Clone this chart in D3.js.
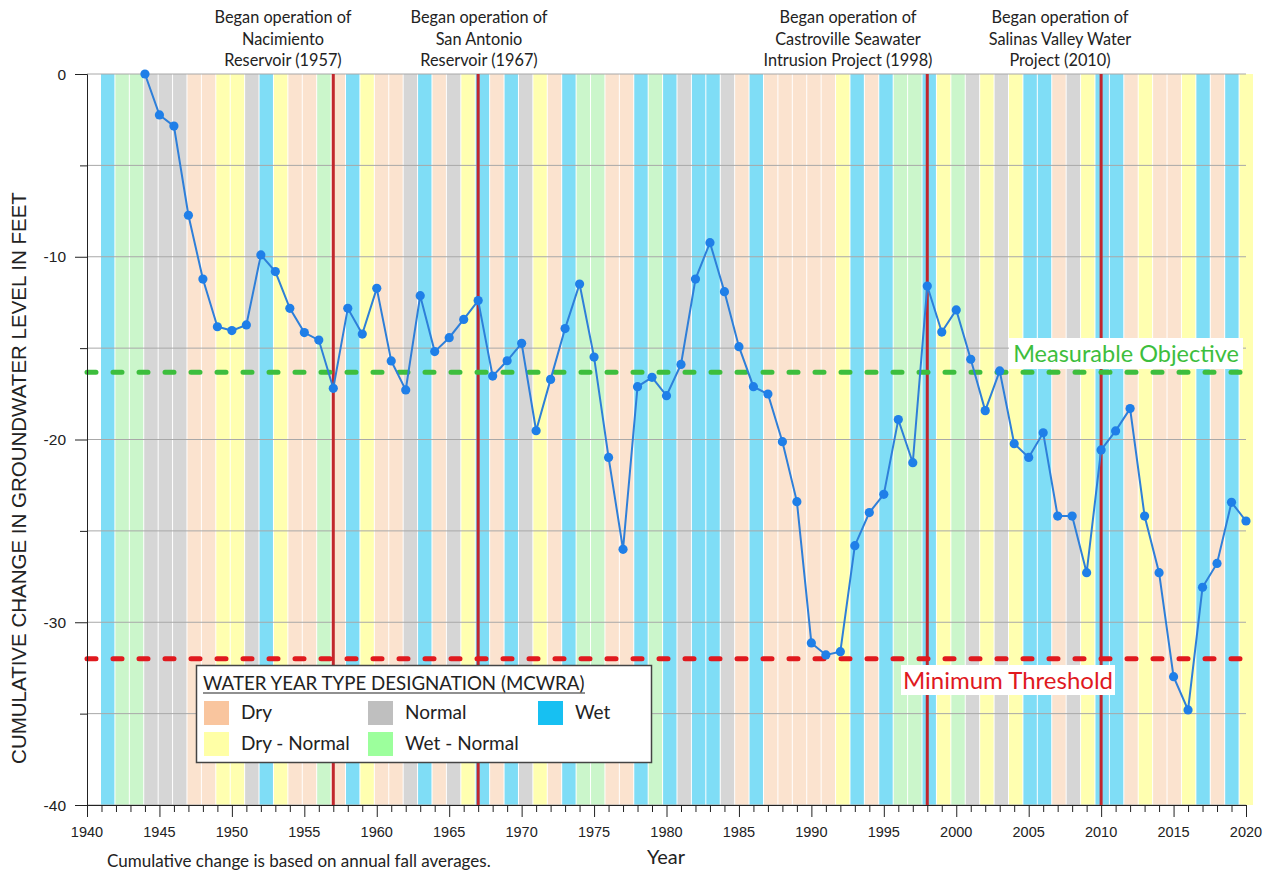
<!DOCTYPE html>
<html><head><meta charset="utf-8">
<script src="https://cdn.jsdelivr.net/npm/d3@7"></script>
<style>body{margin:0;background:#fff} svg{display:block}</style>
</head><body><svg id="c" width="1266" height="875"></svg>
<script>
// ---------- DATA ----------
const years = [1944,1945,1946,1947,1948,1949,1950,1951,1952,1953,1954,1955,1956,1957,1958,1959,
  1960,1961,1962,1963,1964,1965,1966,1967,1968,1969,1970,1971,1972,1973,1974,1975,1976,1977,1978,1979,
  1980,1981,1982,1983,1984,1985,1986,1987,1988,1989,1990,1991,1992,1993,1994,1995,1996,1997,1998,1999,
  2000,2001,2002,2003,2004,2005,2006,2007,2008,2009,2010,2011,2012,2013,2014,2015,2016,2017,2018,2019,2020];
const change = [0,-2.24,-2.85,-7.73,-11.22,-13.83,-14.04,-13.73,-9.9,-10.81,-12.82,-14.15,-14.56,-17.2,-12.82,-14.23,
  -11.73,-15.7,-17.29,-12.13,-15.19,-14.43,-13.43,-12.4,-16.53,-15.69,-14.74,-19.52,-16.71,-13.93,-11.49,-15.49,-20.98,-26.01,-17.11,-16.6,
  -17.6,-15.89,-11.22,-9.23,-11.91,-14.92,-17.11,-17.51,-20.12,-23.4,-31.13,-31.79,-31.61,-25.81,-24.0,-23.0,-18.91,-21.27,-11.6,-14.12,
  -12.91,-15.61,-18.42,-16.25,-20.23,-20.98,-19.63,-24.19,-24.19,-27.29,-20.57,-19.53,-18.31,-24.19,-27.29,-32.98,-34.8,-28.09,-26.78,-23.44,-24.46];

const bandYears = [1941,1942,1943,1944,1945,1946,1947,1948,1949,1950,1951,1952,1953,1954,1955,1956,1957,1958,1959,1960,
  1961,1962,1963,1964,1965,1966,1967,1968,1969,1970,1971,1972,1973,1974,1975,1976,1977,1978,1979,1980,
  1981,1982,1983,1984,1985,1986,1987,1988,1989,1990,1991,1992,1993,1994,1995,1996,1997,1998,1999,2000,
  2001,2002,2003,2004,2005,2006,2007,2008,2009,2010,2011,2012,2013,2014,2015,2016,2017,2018,2019,2020];
const waterYearType = [
  "W","WN","WN","N","N","N","D","D","DN","DN",
  "N","W","DN","D","D","WN","D","W","DN","D",
  "D","N","W","D","N","DN","W","D","W","N",
  "DN","D","W","WN","WN","D","D","W","WN","W",
  "N","W","W","N","D","W","D","D","D","D",
  "D","DN","W","D","W","WN","WN","W","DN","WN",
  "N","DN","N","DN","W","W","D","N","DN","W",
  "W","D","DN","D","D","DN","W","D","W","DN"];

const typeKeys = ["D","N","W","DN","WN"];
const typeLabels = ["Dry","Normal","Wet","Dry - Normal","Wet - Normal"];
const typeBandColors = ["#FBE3CF","#D6D6D6","#7FDDF6","#FFFFB0","#CBF6CB"];
const typeLegendColors = ["#F9C59E","#BFBFBF","#17C0F2","#FFFFA6","#9CFF9C"];

const milestoneYears = [1957,1967,1998,2010];
const milestoneText = [
  ["Began operation of","Nacimiento","Reservoir (1957)"],
  ["Began operation of","San Antonio","Reservoir (1967)"],
  ["Began operation of","Castroville Seawater","Intrusion Project (1998)"],
  ["Began operation of","Salinas Valley Water","Project (2010)"]];

const measurableObjective = -16.32;
const minimumThreshold = -32.0;
const xTickLabels = [1940,1945,1950,1955,1960,1965,1970,1975,1980,1985,1990,1995,2000,2005,2010,2015,2020];
const yTickLabels = [0,-10,-20,-30,-40];
const yGridValues = [0,-5,-10,-15,-20,-25,-30,-35,-40];

// ---------- SCALES ----------
const svg = d3.select("#c");
const x = d3.scaleLinear().domain([1940,2020]).range([87,1246]);
const y = d3.scaleLinear().domain([0,-40]).range([74,805]);
const xb = d3.scaleBand().domain(bandYears).range([101,1253]).paddingInner(0.07).paddingOuter(0);
const bandColor = d3.scaleOrdinal().domain(typeKeys).range(typeBandColors);
const legendColor = d3.scaleOrdinal().domain(typeKeys).range(typeLegendColors);

const calib = "Lato, 'Open Sans', sans-serif";
const arial = "'Liberation Sans', Arial, sans-serif";

// bands
svg.append("g").selectAll("rect").data(bandYears).join("rect")
  .attr("x", d => xb(d)).attr("width", xb.bandwidth())
  .attr("y", y(0)).attr("height", y(-40) - y(0))
  .attr("fill", (d,i) => bandColor(waterYearType[i]));

// grid
svg.append("g").selectAll("line").data(yGridValues).join("line")
  .attr("x1", x(1940)).attr("x2", x(2020))
  .attr("y1", d => y(d)).attr("y2", d => y(d))
  .attr("stroke", "#A8A8A8").attr("stroke-width", 1);

// milestone vertical lines
svg.append("g").selectAll("line").data(milestoneYears).join("line")
  .attr("x1", d => x(d)).attr("x2", d => x(d))
  .attr("y1", y(0)).attr("y2", y(-40))
  .attr("stroke", "#C1272D").attr("stroke-width", 3);

// objective / threshold dashed lines
const refLines = [[measurableObjective,"#3DBE3D"],[minimumThreshold,"#E0191E"]];
svg.append("g").selectAll("line").data(refLines).join("line")
  .attr("x1", x(1940)).attr("x2", 1240)
  .attr("y1", d => y(d[0])).attr("y2", d => y(d[0]))
  .attr("stroke", d => d[1]).attr("stroke-width", 5)
  .attr("stroke-dasharray", "9,17").attr("stroke-linecap", "round");

// series
const pts = years.map((yr,i) => [yr, change[i]]);
svg.append("path").datum(pts)
  .attr("fill","none").attr("stroke","#2E7FD9").attr("stroke-width",2)
  .attr("d", d3.line().x(d => x(d[0])).y(d => y(d[1])));
svg.append("g").selectAll("circle").data(pts).join("circle")
  .attr("cx", d => x(d[0])).attr("cy", d => y(d[1])).attr("r", 4.6)
  .attr("fill","#1F7FE8");

// axes
const xAxis = svg.append("g").attr("transform", `translate(0,${y(-40)})`)
  .call(d3.axisBottom(x).tickValues(d3.range(1940,2021)).tickSize(7).tickFormat(""));
xAxis.selectAll(".tick line").attr("stroke","#222");
xAxis.selectAll(".tick").filter(d => xTickLabels.includes(d)).select("line").attr("y2", 12);
xAxis.select(".domain").attr("stroke","#222");
svg.append("g").selectAll("text").data(xTickLabels).join("text")
  .attr("x", d => x(d)).attr("y", 837).attr("text-anchor","middle")
  .attr("font-family", arial).attr("font-size", 14.5).attr("fill","#222").text(d => d);

const yAxis = svg.append("g").attr("transform", `translate(${x(1940)},0)`)
  .call(d3.axisLeft(y).tickValues(yGridValues).tickSize(7).tickFormat(""));
yAxis.selectAll(".tick line").attr("stroke","#222");
yAxis.selectAll(".tick").filter(d => yTickLabels.includes(d)).select("line").attr("x2", -12);
yAxis.select(".domain").attr("stroke","#222");
svg.append("g").selectAll("text").data(yTickLabels).join("text")
  .attr("x", 66).attr("y", d => y(d) + 5.5).attr("text-anchor","end")
  .attr("font-family", arial).attr("font-size", 15.5).attr("fill","#222").text(d => d);

// axis titles
svg.append("text").attr("transform","translate(26,478) rotate(-90)")
  .attr("text-anchor","middle").attr("font-family", arial).attr("font-size", 20.5).attr("fill","#222")
  .text("CUMULATIVE CHANGE IN GROUNDWATER LEVEL IN FEET");
svg.append("text").attr("x", 666).attr("y", 864).attr("text-anchor","middle")
  .attr("font-family", calib).attr("font-size", 20).attr("fill","#222").text("Year");
svg.append("text").attr("x", 107).attr("y", 867)
  .attr("font-family", calib).attr("font-size", 17).attr("fill","#222")
  .text("Cumulative change is based on annual fall averages.");

// milestone annotations
const centers = [283, 479, 848, 1060];
milestoneText.forEach((lines, k) => {
  svg.append("g").selectAll("text").data(lines).join("text")
    .attr("x", centers[k]).attr("y", (d,i) => 23 + i*21.5)
    .attr("text-anchor","middle").attr("font-family", calib).attr("font-size", 16.3).attr("fill","#222")
    .text(d => d);
});

// reference labels
svg.append("rect").attr("x",1009).attr("y",338).attr("width",234).attr("height",31).attr("fill","#fff");
svg.append("text").attr("x",1126).attr("y",362).attr("text-anchor","middle")
  .attr("font-family", calib).attr("font-size", 23.5).attr("fill","#3DBE3D").text("Measurable Objective");
svg.append("rect").attr("x",901).attr("y",665).attr("width",214).attr("height",30).attr("fill","#fff");
svg.append("text").attr("x",1008).attr("y",689).attr("text-anchor","middle")
  .attr("font-family", calib).attr("font-size", 24).attr("fill","#E0191E").text("Minimum Threshold");

// legend
const lg = svg.append("g");
lg.append("rect").attr("x",196.5).attr("y",665.5).attr("width",455).attr("height",97)
  .attr("fill","#fff").attr("stroke","#444").attr("stroke-width",1.5);
lg.append("text").attr("x",203).attr("y",690).attr("font-family", calib).attr("font-size",18.7)
  .attr("fill","#222").text("WATER YEAR TYPE DESIGNATION (MCWRA)");
lg.append("line").attr("x1",203).attr("x2",585).attr("y1",693).attr("y2",693).attr("stroke","#222").attr("stroke-width",1.2);
const legendPos = {D:[204,701], N:[368,701], W:[538,701], DN:[204,732], WN:[368,732]};
typeKeys.forEach((k,i) => {
  const p = legendPos[k];
  lg.append("rect").attr("x",p[0]).attr("y",p[1]).attr("width",25).attr("height",24).attr("fill",legendColor(k));
  lg.append("text").attr("x",p[0]+37).attr("y",p[1]+18).attr("font-family", calib).attr("font-size",19)
    .attr("fill","#222").text(typeLabels[i]);
});
</script></body></html>
